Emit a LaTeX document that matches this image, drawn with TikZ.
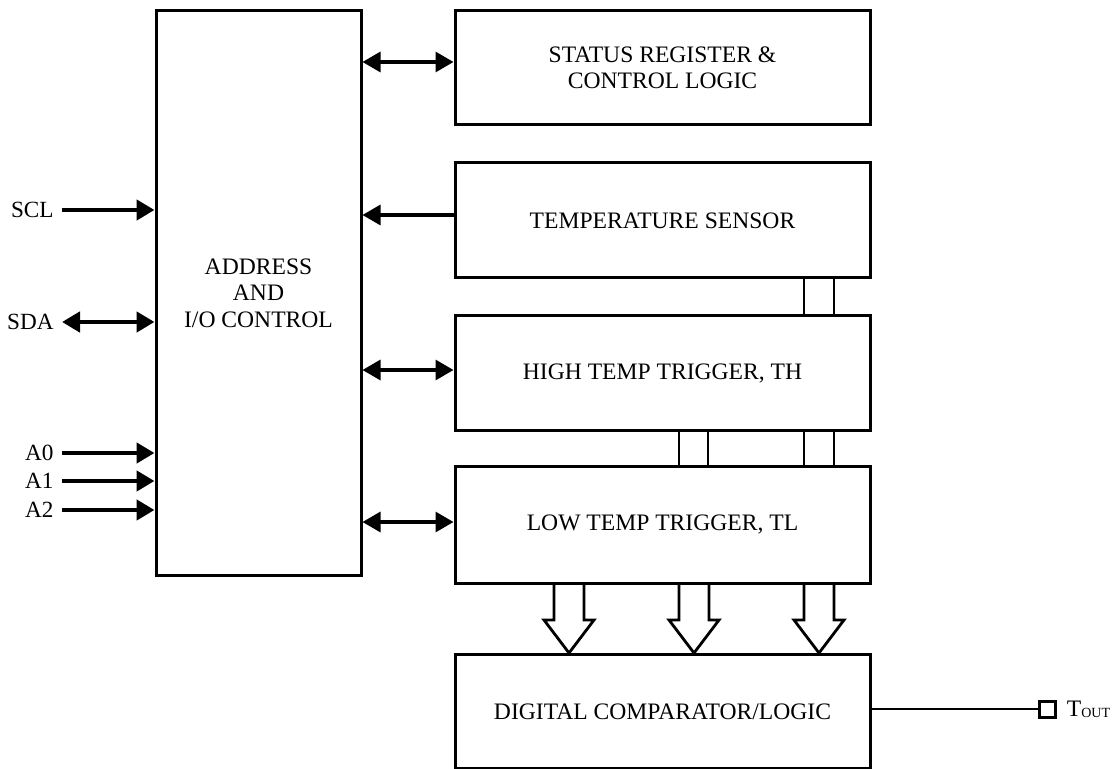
\documentclass[tikz,border=0pt]{standalone}
\usepackage{fontspec}
\setmainfont{Liberation Serif}
\usetikzlibrary{arrows.meta}

\begin{document}
\begin{tikzpicture}[x=0.5pt, y=-0.5pt, >={Triangle[length=9pt,width=10pt]},
	blok/.style={draw, line width=1.5pt, minimum width=207.5pt, inner sep=0pt, align=center, font=\fontsize{11.8}{13.2}\selectfont},
	nhan/.style={anchor=east, inner sep=4pt, font=\fontsize{11.6}{12}\selectfont},
	dau/.style={->, line width=1.6pt},
	haidau/.style={<->, line width=1.6pt},
	chan/.style={line width=1.3pt}]
			\useasboundingbox (0,0) rectangle (1118,769);
			\node[blok, minimum width=102.5pt, minimum height=282pt] (addr) at (258.5,293) {ADDRESS\\AND\\I/O CONTROL};
			\node[blok, minimum height=57pt] (status) at (662.5,68) {STATUS REGISTER \&\\CONTROL LOGIC};
			\node[blok, minimum height=57.5pt] (sensor) at (662.5,220.5) {TEMPERATURE SENSOR};
			\node[blok, minimum height=57.5pt] (high) at (662.5,373.5) {HIGH TEMP TRIGGER, TH};
			\node[blok, minimum height=58pt] (low) at (662.5,525) {LOW TEMP TRIGGER, TL};
			\node[blok, minimum height=57pt] (comp) at (662.5,711.5) {DIGITAL COMPARATOR/LOGIC};
			\draw[haidau] ([yshift=3pt]status.west) -- ([yshift=3pt]status.west -| addr.east);
			\draw[dau] ([yshift=2.75pt]sensor.west) -- ([yshift=2.75pt]sensor.west -| addr.east);
			\draw[haidau] ([yshift=1.75pt]high.west) -- ([yshift=1.75pt]high.west -| addr.east);
			\draw[haidau] ([yshift=1.5pt]low.west) -- ([yshift=1.5pt]low.west -| addr.east);
			\node[nhan] (scl) at (62,210) {SCL};
			\node[nhan] (sda) at (62,322) {SDA};
			\foreach \i/\y in {0/453,1/481,2/510}
				\node[nhan] (a\i) at (62,\y) {A\i};
			\draw[dau, line width=2.2pt] (scl.east) -- (scl.east -| addr.west);
			\draw[haidau, line width=2.2pt] (sda.east) -- (sda.east -| addr.west);
			\foreach \i in {0,1,2}
				\draw[dau, line width=2.2pt] (a\i.east) -- (a\i.east -| addr.west);
			\foreach \x in {804,834}
				\draw[chan] (sensor.south -| \x,0) -- (high.north -| \x,0);
			\foreach \x in {679,708,804,834}
				\draw[chan] (high.south -| \x,0) -- (low.north -| \x,0);
			\foreach \l/\m/\r in {554/569/584,679/694/709,804/819/834}
				\draw[chan, line width=1.4pt] (low.south -| \l,0) -- (\l,620) -- (\l-10,620) -- (comp.north -| \m,0) -- (\r+10,620) -- (\r,620) -- (low.south -| \r,0);
			\node[draw, line width=1.5pt, minimum size=8pt, inner sep=0pt] (pin) at (1047,709) {};
			\node[anchor=west, inner sep=5pt, font=\fontsize{11.8}{12}\selectfont] (tout) at (pin.east) {T\raisebox{-0.5pt}{\fontsize{7}{8}\selectfont OUT}};
			\draw[line width=1.3pt] (comp.east |- pin.west) -- (pin.west);
		\end{tikzpicture}
\end{document}
